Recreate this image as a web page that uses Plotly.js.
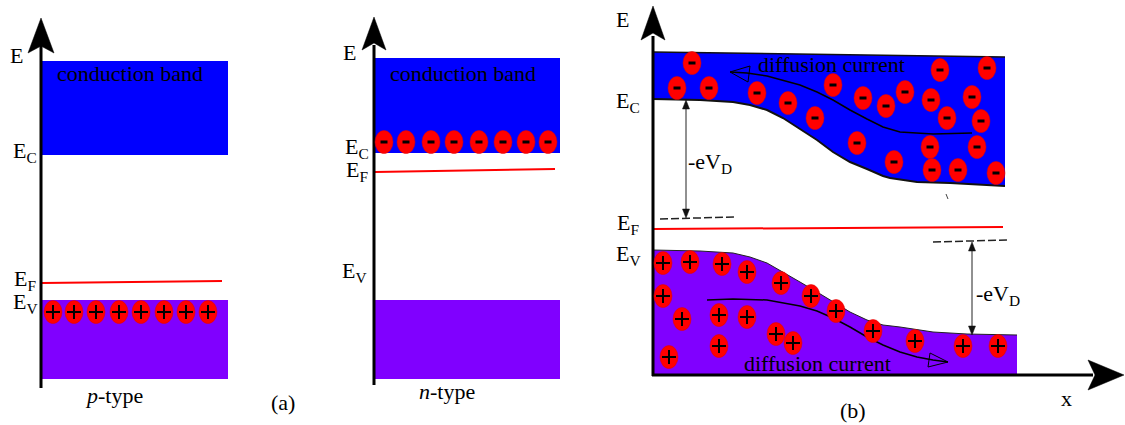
<!DOCTYPE html>
<html><head><meta charset="utf-8">
<script src="https://cdn.plot.ly/plotly-3.0.1.min.js"></script>
<style>html,body{margin:0;padding:0;background:#fff}#chart{width:1125px;height:425px}</style>
</head><body><div id="chart"></div>
<script>
// ===== Diagram geometry (diagram units, y grows downward) =====
// (a) p-type
const pBandX = [42, 228];
const pCondY = [61, 155];        // top, E_C
const pValY = [300, 379];        // E_V, bottom
const pFermiX = [42, 222];
const pFermiY = [283, 281];
const pHolesX = [53, 74, 96, 119, 141, 164, 186, 208];
const pHolesY = [312, 312, 312, 312, 312, 312, 312, 312];
// (a) n-type
const nBandX = [375, 560];
const nCondY = [58, 153];
const nValY = [300, 379];
const nFermiX = [375, 555];
const nFermiY = [172, 169];
const nElecX = [384, 406, 431, 454, 479, 503, 526, 548];
const nElecY = [142, 142, 142, 142, 142, 142, 142, 142];
// (b) p-n junction
const cbTopX = [653, 1005];
const cbTopY = [52, 57];
const ecX = [653, 700, 733, 750, 767, 783, 800, 817, 833, 850, 867, 883, 890, 917, 950, 1005];
const ecY = [99, 100, 102, 105, 110, 118, 129, 140, 152, 162, 169, 176, 178, 182, 183, 186];
const evX = [653, 700, 733, 750, 767, 783, 800, 817, 833, 850, 867, 883, 900, 933, 967, 1017];
const evY = [250, 251, 253, 257, 263, 272, 282, 292, 302, 312, 320, 325, 327, 332, 334, 335];
const vbBottomY = 375;
const bFermiX = [653, 1003];
const bFermiY = [229, 227];
const bElecX = [692, 677, 709, 757, 788, 815, 833, 863, 886, 905, 931, 940, 987, 972, 947, 981, 857, 930, 977, 894, 932, 958, 996];
const bElecY = [63, 88, 88, 93, 103, 118, 85, 98, 106, 92, 100, 70, 68, 97, 118, 121, 143, 147, 147, 162, 170, 170, 173];
const bHoleX = [663, 690, 722, 747, 781, 811, 836, 873, 915, 963, 998, 663, 682, 719, 747, 776, 793, 719, 669];
const bHoleY = [263, 262, 264, 272, 283, 296, 311, 331, 341, 346, 346, 296, 319, 315, 317, 334, 343, 346, 357];
const diffTopX = [972, 933, 900, 883, 867, 850, 833, 817, 800, 783, 767, 747, 730];
const diffTopY = [133, 134, 132, 127, 119, 110, 100, 92, 85, 80, 76, 73, 72];
const diffBotX = [707, 733, 767, 800, 817, 833, 850, 867, 883, 900, 917, 933, 948];
const diffBotY = [300, 299, 300, 306, 311, 318, 327, 337, 345, 352, 357, 360, 362];
const dashLeftX = [660, 734], dashLeftY = [219, 217];
const dashRightX = [933, 1007], dashRightY = [242, 240];
const evdLeft = {x: 686, y0: 100, y1: 218};
const evdRight = {x: 972, y0: 242, y1: 335};

// ===== styles =====
const BLUE = '#0000ff', PURPLE = '#8000ff', RED = '#ff0000';
const FONT = 'Liberation Serif, Times New Roman, serif';
const EW = 9, EH = 11.5;  // ellipse half axes

const traces = [];
function poly(xs, ys, fill, lineColor, lw) {
  traces.push({x: xs, y: ys, mode: 'lines', fill: 'toself', fillcolor: fill,
    line: {color: lineColor || fill, width: lw || 0}, hoverinfo: 'skip'});
}
function line(xs, ys, color, w, dash) {
  traces.push({x: xs, y: ys, mode: 'lines', line: {color: color, width: w, dash: dash || 'solid'}, hoverinfo: 'skip'});
}
function rectT(x, y, fill) {
  poly([x[0], x[1], x[1], x[0], x[0]], [y[0], y[0], y[1], y[1], y[0]], fill);
}
// filled arrowhead: tip, direction unit vector (dx,dy), length, half width, notch
function head(tx, ty, dx, dy, len, hw, notch, color) {
  const bx = tx - dx * len, by = ty - dy * len;
  const px = -dy, py = dx;
  const nx = tx - dx * (len - notch), ny = ty - dy * (len - notch);
  poly([tx, bx + px * hw, nx, bx - px * hw, tx], [ty, by + py * hw, ny, by - py * hw, ty], color, color, 0.5);
}

// bands (a)
rectT(pBandX, pCondY, BLUE);
rectT(pBandX, pValY, PURPLE);
rectT(nBandX, nCondY, BLUE);
rectT(nBandX, nValY, PURPLE);
// bands (b)
poly([cbTopX[0], cbTopX[1]].concat(ecX.slice().reverse()), [cbTopY[0], cbTopY[1]].concat(ecY.slice().reverse()), BLUE);
poly(evX.concat([evX[evX.length - 1], evX[0]]), evY.concat([vbBottomY, vbBottomY]), PURPLE);
line(cbTopX, cbTopY, '#111', 1.5);
line(ecX, ecY, '#111', 2);
line(evX, evY, '#222', 1);

// Fermi levels
line(pFermiX, pFermiY, RED, 2);
line(nFermiX, nFermiY, RED, 2);
line(bFermiX, bFermiY, RED, 2);

// energy axes
line([41, 41], [388, 45], '#000', 3);
head(41, 18, 0, -1, 35, 13, 7, '#000');
line([374, 374], [385, 45], '#000', 3);
head(374, 17, 0, -1, 33, 12, 7, '#000');
line([653, 653], [376, 36], '#000', 3);
head(653, 6, 0, -1, 34, 12, 7, '#000');
line([652, 1093], [375, 375], '#000', 3);
head(1124, 375, 1, 0, 36, 15, 7, '#000');

// dashed reference lines
line(dashLeftX, dashLeftY, '#222', 1.5, '8px,3px');
line(dashRightX, dashRightY, '#222', 1.5, '8px,3px');
line([946, 948], [194, 199], '#444', 1);

// -eV_D arrows
[evdLeft, evdRight].forEach(a => {
  line([a.x, a.x], [a.y0 + 6, a.y1 - 6], '#222', 1);
  head(a.x, a.y0, 0, -1, 9, 3.5, 0, '#111');
  head(a.x, a.y1, 0, 1, 9, 3.5, 0, '#111');
});

// diffusion current arrows (open heads)
line(diffTopX, diffTopY, '#000', 1.5);
line([750, 730, 748, 750], [66, 72, 82, 66], '#000', 1);
line(diffBotX, diffBotY, '#000', 1.5);
line([930, 948, 928, 930], [353, 362, 367, 353], '#000', 1);

// carriers as shapes
const shapes = [];
function carrier(cx, cy, sign) {
  shapes.push({type: 'circle', xref: 'x', yref: 'y', x0: cx - EW, x1: cx + EW, y0: cy - EH, y1: cy + EH,
    fillcolor: RED, line: {color: '#e00000', width: 0.5}, layer: 'above'});
  if (sign > 0) {
    shapes.push({type: 'line', xref: 'x', yref: 'y', x0: cx - 7, x1: cx + 7, y0: cy, y1: cy, line: {color: '#000', width: 2}, layer: 'above'});
    shapes.push({type: 'line', xref: 'x', yref: 'y', x0: cx, x1: cx, y0: cy - 7, y1: cy + 7, line: {color: '#000', width: 2}, layer: 'above'});
  } else {
    shapes.push({type: 'line', xref: 'x', yref: 'y', x0: cx - 3.5, x1: cx + 3.5, y0: cy, y1: cy, line: {color: '#000', width: 3}, layer: 'above'});
  }
}
pHolesX.forEach((x, i) => carrier(x, pHolesY[i], 1));
nElecX.forEach((x, i) => carrier(x, nElecY[i], -1));
bElecX.forEach((x, i) => carrier(x, bElecY[i], -1));
bHoleX.forEach((x, i) => carrier(x, bHoleY[i], 1));

// labels
const labels = [
  ['E', 16, 55], ['E<sub>C</sub>', 25, 152], ['E<sub>F</sub>', 25, 280], ['E<sub>V</sub>', 25, 303],
  ['conduction band', 130, 73], ['<i>p</i>-type', 114, 395], ['(a)', 283, 402],
  ['E', 349, 52], ['E<sub>C</sub>', 357, 148], ['E<sub>F</sub>', 357, 171], ['E<sub>V</sub>', 354, 272],
  ['conduction band', 463, 73], ['<i>n</i>-type', 447, 391],
  ['E', 622, 19], ['E<sub>C</sub>', 628, 102], ['E<sub>F</sub>', 628, 224], ['E<sub>V</sub>', 628, 255],
  ['-eV<sub>D</sub>', 710, 163], ['-eV<sub>D</sub>', 998, 295],
  ['diffusion current', 831, 64], ['diffusion current', 817, 363],
  ['x', 1066, 398], ['(b)', 853, 410]
];
const annotations = labels.map(l => ({text: l[0], x: l[1], y: l[2], xref: 'x', yref: 'y',
  showarrow: false, xanchor: 'center', yanchor: 'middle', font: {family: FONT, size: 22, color: '#000'}}));

const layout = {
  width: 1125, height: 425, margin: {l: 0, r: 0, t: 0, b: 0},
  paper_bgcolor: '#fff', plot_bgcolor: '#fff', showlegend: false,
  xaxis: {range: [0, 1125], visible: false, fixedrange: true},
  yaxis: {range: [425, 0], visible: false, fixedrange: true},
  shapes: shapes, annotations: annotations
};
Plotly.newPlot('chart', traces, layout, {staticPlot: true, displayModeBar: false});
</script></body></html>
